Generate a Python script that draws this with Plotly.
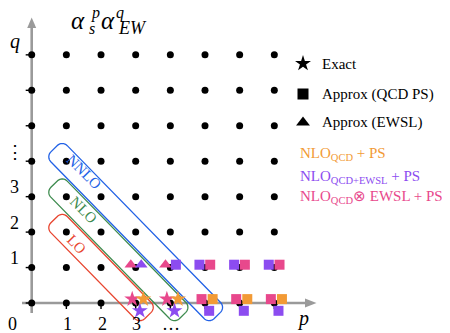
import numpy as np
import plotly.graph_objects as go

# ------------------------------------------------------------------ data
grid_p = list(range(8))
grid_q = list(range(8))

x_tick_vals = [0, 1, 2, 3, 4]
x_tick_text = ["0", "1", "2", "3", "…"]
y_tick_vals = [1, 2, 3, 4]
y_tick_text = ["1", "2", "3", "⋮"]
x_tick_marks = [1, 2, 3, 4, 5, 6, 7]
y_tick_marks = [1, 2, 3, 4, 5, 6, 7]

# perturbative orders: p + q = k, covering p from p_start to p_end
order_labels = ["LO", "NLO", "NNLO"]
order_k = [3, 4, 5]
order_p_start = [1, 1, 1]
order_p_end = [3, 4, 5]

# NLO_QCD + PS  (orange)
orange_exact_p = [3, 4]
orange_exact_q = [0, 0]
orange_qcdps_p = [5, 6, 7]
orange_qcdps_q = [0, 0, 0]

# NLO_QCD+EWSL + PS  (purple)
purple_exact_p = [3, 4]
purple_exact_q = [0, 0]
purple_ewsl_p = [3]
purple_ewsl_q = [1]
purple_qcdps_p = [5, 6, 7, 4, 5, 6, 7]
purple_qcdps_q = [0, 0, 0, 1, 1, 1, 1]

# NLO_QCD x EWSL + PS  (pink)
pink_exact_p = [3, 4]
pink_exact_q = [0, 0]
pink_ewsl_p = [3, 4]
pink_ewsl_q = [1, 1]
pink_qcdps_p = [5, 6, 7, 5, 6, 7]
pink_qcdps_q = [0, 0, 0, 1, 1, 1]

legend_labels = ["Exact", "Approx (QCD PS)", "Approx (EWSL)"]
scheme_labels = ["NLO<sub>QCD</sub> + PS",
                 "NLO<sub>QCD+EWSL</sub> + PS",
                 "NLO<sub>QCD</sub>⊗ EWSL + PS"]

# ------------------------------------------------------------------ style
PAGE_OFF = 8            # default body margin of the html page
W, H = 450 - PAGE_OFF, 333 - PAGE_OFF
X0, SX = 31.7, 34.66    # page pixel of p=0, pixels per unit p
Y0, SY = 303.0, 35.45   # page pixel of q=0, pixels per unit q
FONT = "Liberation Serif"
ORANGE = "#F29A35"
PURPLE = "#8C4CF0"
PINK = "#E8488C"
ORDER_COLORS = ["#E8452F", "#3D8B4E", "#2262E6"]
GREY = "#9A9A9A"


def px2d(x, y):
    return (x - X0) / SX, (Y0 - y) / SY


def d2px(p, q):
    return X0 + SX * p, Y0 - SY * q


def offset(color, p, q):
    if q == 0:
        dx = {"pink": -0.10, "orange": 0.22, "purple": 0.12}[color]
        dy = -0.22 if color == "purple" else 0.11
    else:
        if color == "pink":
            dx = -0.14 if p <= 4 else 0.15
        else:
            dx = 0.16 if p <= 4 else -0.16
        dy = 0.08
    return dx, dy


def shifted(color, ps, qs):
    xs, ys = [], []
    for p, q in zip(ps, qs):
        dx, dy = offset(color, p, q)
        xs.append(p + dx)
        ys.append(q + dy)
    return xs, ys


fig = go.Figure()

# grid of dots
gp, gq = np.meshgrid(grid_p, grid_q)
fig.add_trace(go.Scatter(x=gp.ravel(), y=gq.ravel(), mode="markers",
                         marker=dict(color="black", size=7), hoverinfo="skip"))

# tick marks
tx, ty = [], []
for p in x_tick_marks:
    tx += [p, p, None]
    ty += [0, -6 / SY, None]
for q in y_tick_marks + [0]:
    tx += [0, -6 / SX, None]
    ty += [q, q, None]
fig.add_trace(go.Scatter(x=tx, y=ty, mode="lines",
                         line=dict(color="black", width=1.4), hoverinfo="skip"))

# coloured markers
series = [
    ("pink", pink_exact_p, pink_exact_q, "star", 12),
    ("orange", orange_exact_p, orange_exact_q, "star", 12),
    ("purple", purple_exact_p, purple_exact_q, "star", 12),
    ("pink", pink_ewsl_p, pink_ewsl_q, "triangle-up", 11),
    ("purple", purple_ewsl_p, purple_ewsl_q, "triangle-up", 11),
    ("pink", pink_qcdps_p, pink_qcdps_q, "square", 10),
    ("orange", orange_qcdps_p, orange_qcdps_q, "square", 10),
    ("purple", purple_qcdps_p, purple_qcdps_q, "square", 10),
]
cmap = {"pink": PINK, "orange": ORANGE, "purple": PURPLE}
for color, ps, qs, sym, size in series:
    xs, ys = shifted(color, ps, qs)
    fig.add_trace(go.Scatter(x=xs, y=ys, mode="markers",
                             marker=dict(symbol=sym, size=size, color=cmap[color],
                                         line=dict(width=0)),
                             hoverinfo="skip"))

# legend symbols (black)
leg_px_y = [63.5, 94, 122.5]
leg_syms = ["star", "square", "triangle-up"]
leg_sizes = [12, 11, 12]
for i, lab in enumerate(legend_labels):
    lx, ly = px2d(303, leg_px_y[i])
    fig.add_trace(go.Scatter(x=[lx], y=[ly], mode="markers",
                             marker=dict(symbol=leg_syms[i], size=leg_sizes[i], color="black"),
                             hoverinfo="skip"))

shapes = []
# axes lines
xa0, ya0 = px2d(22, Y0)
xa1, _ = px2d(306, Y0)
shapes.append(dict(type="line", x0=xa0, y0=0, x1=xa1, y1=0, layer="below",
                   line=dict(color=GREY, width=2.6)))
_, yb0 = px2d(X0, 313)
_, yb1 = px2d(X0, 27)
shapes.append(dict(type="line", x0=0, y0=yb0, x1=0, y1=yb1, layer="below",
                   line=dict(color=GREY, width=2.6)))


def tri_path(pts):
    d = []
    for i, (x, y) in enumerate(pts):
        px_, py_ = px2d(x, y)
        d.append(("M" if i == 0 else "L") + f"{px_:.4f},{py_:.4f}")
    return " ".join(d) + " Z"


shapes.append(dict(type="path", path=tri_path([(305, Y0 - 4.5), (316.5, Y0), (305, Y0 + 4.5)]),
                   fillcolor=GREY, line=dict(width=0), layer="below"))
shapes.append(dict(type="path", path=tri_path([(X0 - 4.5, 28), (X0, 17.5), (X0 + 4.5, 28)]),
                   fillcolor=GREY, line=dict(width=0), layer="below"))


# rounded bands around each order
def band_path(k, p_start, p_end, e=17.5, w=11.5, r=7.0):
    A = np.array(d2px(p_start, k - p_start))
    B = np.array(d2px(p_end, k - p_end))
    u = (B - A) / np.linalg.norm(B - A)
    n = np.array([-u[1], u[0]])
    A2 = A - e * u
    B2 = B + e * u
    t = np.linspace(0, np.pi / 2, 12)
    corners = [
        (B2 - r * u + (w - r) * n, n, u),
        (B2 - r * u - (w - r) * n, u, -n),
        (A2 + r * u - (w - r) * n, -n, -u),
        (A2 + r * u + (w - r) * n, -u, n),
    ]
    pts = []
    for c, a, b in corners:
        for tt in t:
            pts.append(c + r * (np.cos(tt) * a + np.sin(tt) * b))
    d = []
    for i, pt in enumerate(pts):
        px_, py_ = px2d(pt[0], pt[1])
        d.append(("M" if i == 0 else "L") + f"{px_:.4f},{py_:.4f}")
    return " ".join(d) + " Z"


for i in range(len(order_labels)):
    shapes.append(dict(type="path",
                       path=band_path(order_k[i], order_p_start[i], order_p_end[i]),
                       line=dict(color=ORDER_COLORS[i], width=1.3), layer="below"))

annotations = []


def ann(text, x, y, size, color="black", xanchor="center", yanchor="middle", angle=0):
    annotations.append(dict(text=text, x=x, y=y, xref="x", yref="y", showarrow=False,
                            xanchor=xanchor, yanchor=yanchor, textangle=angle,
                            font=dict(family=FONT, size=size, color=color)))


# order labels, placed by page pixel centre
order_label_px = [(76.5, 243.5), (83.5, 210), (84, 172)]
for i, lab in enumerate(order_labels):
    lx, ly = px2d(*order_label_px[i])
    ann(lab, lx, ly, 15, ORDER_COLORS[i], angle=45)

# tick labels
for v, t in zip(y_tick_vals, y_tick_text):
    lx, ly = px2d(14.5, d2px(0, v)[1] - 9.5)
    ann(t, lx, ly, 18)
for v, t in zip(x_tick_vals, x_tick_text):
    if v == 0:
        lx, ly = px2d(12.5, 324)
    else:
        lx, ly = px2d(d2px(v, 0)[0] + 1, 324)
    ann(t, lx, ly, 18)

# axis names
lx, ly = px2d(15, 41)
ann("<i>q</i>", lx, ly, 20)
lx, ly = px2d(303, 318)
ann("<i>p</i>", lx, ly, 20)

# title alpha_s^p alpha_EW^q
for txt, (x, y), sz in [("<i>α</i>", (78, 20), 25), ("<i>p</i>", (95.5, 13), 16),
                        ("<i>s</i>", (91.5, 28), 16), ("<i>α</i>", (107.5, 20), 25),
                        ("<i>q</i>", (119.5, 13), 16), ("<i>EW</i>", (132, 28), 18)]:
    lx, ly = px2d(x, y)
    ann(txt, lx, ly, sz)

# legend texts
for i, lab in enumerate(legend_labels):
    lx, ly = px2d(320, leg_px_y[i])
    ann(lab, lx, ly, 15, xanchor="left")
for lab, c, yy in zip(scheme_labels, [ORANGE, PURPLE, PINK], [154, 177, 197]):
    lx, ly = px2d(298, yy)
    ann(lab, lx, ly, 15, c, xanchor="left")

xr = [px2d(PAGE_OFF, 0)[0], px2d(450, 0)[0]]
yr = [px2d(0, 333)[1], px2d(0, PAGE_OFF)[1]]
fig.update_layout(width=W, height=H, margin=dict(l=0, r=0, t=0, b=0),
                  plot_bgcolor="white", paper_bgcolor="white", showlegend=False,
                  xaxis=dict(range=xr, visible=False, fixedrange=True),
                  yaxis=dict(range=yr, visible=False, fixedrange=True),
                  shapes=shapes, annotations=annotations)
fig.write_html("out.html", config={"displayModeBar": False})
